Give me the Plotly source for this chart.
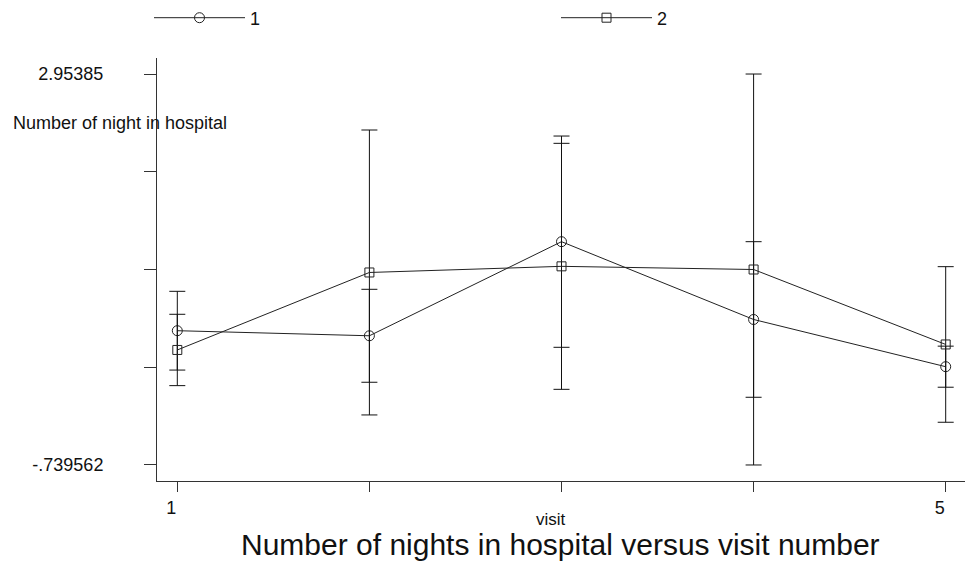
import numpy as np
import plotly.graph_objects as go

visits = [1, 2, 3, 4, 5]
mean_1 = [0.529, 0.481, 1.370, 0.635, 0.189]
err_1 = [0.372, 0.439, 0.998, 0.735, 0.194]
mean_2 = [0.347, 1.079, 1.137, 1.107144, 0.399]
err_2 = [0.337, 1.346, 1.162, 1.846706, 0.735]
y_min = -0.739562
y_max = 2.95385
y_tick_text = ["-.739562", "", "", "", "2.95385"]
x_tick_text = ["1", "", "", "", "5"]

FONT = "Liberation Sans, Arial, sans-serif"
INK = "#111111"

W, H = 973, 564
ML, MR, MT, MB = 157, 8, 58, 83
PW, PH = W - ML - MR, H - MT - MB


def px_x(p):
    return (p - ML) / PW


def px_y(p):
    return (H - MB - p) / PH


fig = go.Figure()
fig.add_trace(go.Scatter(
    x=visits, y=mean_1, name="1", mode="lines+markers", legend="legend",
    line=dict(color="#222222", width=1),
    marker=dict(symbol="circle-open", size=10, color="#222222", line=dict(width=1)),
    error_y=dict(type="data", array=err_1, symmetric=True, color=INK, thickness=1, width=8),
))
fig.add_trace(go.Scatter(
    x=visits, y=mean_2, name="2", mode="lines+markers", legend="legend2",
    line=dict(color="#222222", width=1),
    marker=dict(symbol="square-open", size=9, color="#222222", line=dict(width=1)),
    error_y=dict(type="data", array=err_2, symmetric=True, color=INK, thickness=1, width=8),
))

span = y_max - y_min
ypad = span * 16 / 390.3

legend_style = dict(
    orientation="h", y=px_y(18), xanchor="left", yanchor="middle",
    itemwidth=91, font=dict(size=18, color=INK), bgcolor="rgba(0,0,0,0)",
)

fig.update_layout(
    width=W, height=H, autosize=False,
    margin=dict(l=ML, r=MR, t=MT, b=MB, pad=0, autoexpand=False),
    paper_bgcolor="white", plot_bgcolor="white",
    font=dict(family=FONT, size=18, color=INK),
    showlegend=True,
    legend=dict(x=px_x(149), **legend_style),
    legend2=dict(x=px_x(556), **legend_style),
    xaxis=dict(
        range=[1 - 20.3 / 192.1, 5 + 19.3 / 192.1],
        tickvals=visits, ticktext=x_tick_text,
        showline=True, linecolor="#333333", linewidth=1,
        ticks="outside", ticklen=10, tickcolor="#333333", tickwidth=1,
        showgrid=False, zeroline=False, tickfont=dict(size=18),
        ticklabelshift=-6,
    ),
    yaxis=dict(
        range=[y_min - ypad, y_max + ypad],
        tickvals=list(np.linspace(y_min, y_max, 5)), ticktext=y_tick_text,
        showline=True, linecolor="#333333", linewidth=1,
        ticks="outside", ticklen=12, tickcolor="#333333", tickwidth=1,
        showgrid=False, zeroline=False, tickfont=dict(size=18),
        ticklabelstandoff=37,
    ),
    annotations=[
        dict(text="Number of night in hospital", xref="paper", yref="paper",
             x=px_x(11), y=px_y(123), xanchor="left", yanchor="middle",
             showarrow=False, font=dict(size=18, color=INK)),
        dict(text="visit", xref="paper", yref="paper",
             x=px_x(551), y=px_y(519), xanchor="center", yanchor="middle",
             showarrow=False, font=dict(size=17, color=INK)),
        dict(text="Number of nights in hospital versus visit number", xref="paper", yref="paper",
             x=px_x(560), y=px_y(544), xanchor="center", yanchor="middle",
             showarrow=False, font=dict(size=30, color=INK)),
    ],
)

fig.write_html("out.html")
